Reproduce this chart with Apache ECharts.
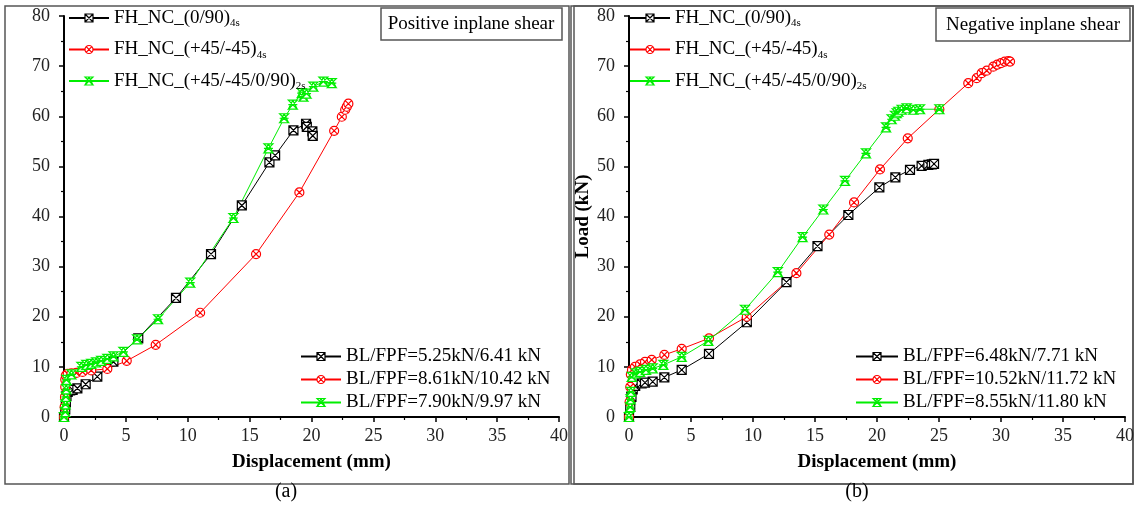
<!DOCTYPE html>
<html><head><meta charset="utf-8">
<script src="https://cdn.jsdelivr.net/npm/echarts@6/dist/echarts.min.js"></script>
<style>html,body{margin:0;padding:0;background:#fff}#c{width:1137px;height:507px}</style>
</head><body><div id="c"></div>
<script>
// ---------- DATA ----------
const xTicks = [0,5,10,15,20,25,30,35,40];
const yTicks = [0,10,20,30,40,50,60,70,80];
const seriesNames = ['FH_NC_(0/90)4s','FH_NC_(+45/-45)4s','FH_NC_(+45/-45/0/90)2s'];
const blLeft = ['BL/FPF=5.25kN/6.41 kN','BL/FPF=8.61kN/10.42 kN','BL/FPF=7.90kN/9.97 kN'];
const blRight = ['BL/FPF=6.48kN/7.71 kN','BL/FPF=10.52kN/11.72 kN','BL/FPF=8.55kN/11.80 kN'];
const panelTitles = ['Positive inplane shear','Negative inplane shear'];

// Positive inplane shear (a)
const posBlack = [[0,0],[0.1,1.5],[0.15,3],[0.2,4.2],[0.3,5.0],[0.5,5.3],[0.7,5.4],[1.08,5.73],[1.75,6.53],[2.69,8.04],[3.99,11.03],[6.0,15.7],[9.05,23.75],[11.88,32.5],[14.37,42.2],[16.6,50.8],[17.06,52.2],[18.54,57.2],[19.56,58.5],[19.62,57.9],[20.07,57.0],[20.1,56.1]];
const posRed = [[0,0],[0.05,2],[0.08,4],[0.1,6],[0.1,7.5],[0.15,8.3],[0.3,8.6],[0.6,8.7],[1.0,8.8],[1.5,9.0],[2.2,9.3],[3.5,9.6],[5.07,11.2],[7.41,14.4],[11.0,20.8],[15.52,32.5],[19.02,44.8],[21.83,57.1],[22.45,59.9],[22.72,61.3],[22.85,61.9],[22.98,62.5]];
const posGreen = [[0,0],[0.1,1],[0.12,2.5],[0.15,4],[0.18,5.5],[0.2,7.4],[0.6,8.5],[1.4,10.0],[1.8,10.4],[2.2,10.6],[2.6,10.9],[3.0,11.2],[3.5,11.6],[4.0,12.1],[4.8,13.0],[5.9,15.5],[7.6,19.5],[10.2,26.8],[13.69,39.7],[16.52,53.6],[17.79,59.6],[18.49,62.3],[19.21,64.6],[19.35,63.9],[19.6,64.5],[20.15,65.9],[20.96,66.9],[21.64,66.6]];

// Negative inplane shear (b)
const negBlack = [[0,0],[0.1,2],[0.2,4],[0.3,5.5],[0.5,6.2],[1.02,6.7],[1.29,6.85],[1.91,7.05],[2.85,7.9],[4.25,9.4],[6.45,12.6],[9.5,18.9],[12.7,26.9],[15.2,34.1],[17.69,40.3],[20.19,45.8],[21.48,47.8],[22.66,49.3],[23.6,50.1],[24.14,50.3],[24.41,50.4],[24.6,50.5]];
const negRed = [[0,0],[0.05,3],[0.1,6],[0.15,8.5],[0.24,9.4],[0.48,10.0],[0.89,10.5],[1.29,11.0],[1.83,11.4],[2.85,12.4],[4.25,13.6],[6.45,15.7],[9.5,20.0],[13.5,28.7],[16.15,36.4],[18.15,42.8],[20.24,49.4],[22.48,55.6],[25.03,61.4],[27.36,66.6],[28.04,67.6],[28.44,68.6],[28.85,69.1],[29.38,69.9],[29.7,70.3],[30.0,70.6],[30.3,70.9],[30.6,71.0],[30.73,70.9]];
const negGreen = [[0,0],[0.1,2],[0.12,3.5],[0.15,5],[0.22,8.0],[0.56,8.7],[0.89,9.0],[1.37,9.4],[1.91,9.7],[2.77,10.4],[4.25,12.0],[6.4,15.2],[9.35,21.4],[12.0,28.9],[14.0,35.9],[15.67,41.4],[17.42,47.1],[19.11,52.6],[20.73,57.8],[21.18,59.4],[21.45,60.1],[21.59,60.6],[21.72,60.9],[21.99,61.3],[22.39,61.6],[22.93,61.3],[23.47,61.4],[25.03,61.4]];

// ---------- STYLE ----------
const FONT = '"Liberation Serif", "Times New Roman", serif';
const colors = ['#000000','#ff0000','#00ee00'];
const symbols = [
  'path://M0,0 L10,0 L10,10 L0,10 Z M0,0 L10,10 M10,0 L0,10',
  'path://M10,5 A5,5 0 1,1 0,5 A5,5 0 1,1 10,5 Z M1.5,1.5 L8.5,8.5 M8.5,1.5 L1.5,8.5',
  'path://M0,0 L10,0 L0,10 L10,10 Z M5,0 L0,10 M5,0 L10,10 M0,5 L10,5'
];
const grids = [
  {left:64, top:16, width:495, height:401},
  {left:629, top:16, width:496, height:401}
];

function mkSeries(name, data, i, gi){
  return {
    type:'line', name:name, data:data, xAxisIndex:gi, yAxisIndex:gi,
    symbol:symbols[i], symbolSize:9, showAllSymbol:true, clip:false,
    lineStyle:{color:colors[i], width:1},
    itemStyle:{color:'#ffffff', borderColor:colors[i], borderWidth:1.2},
    animation:false
  };
}

function xAxis(gi){
  return {type:'value', gridIndex:gi, min:0, max:40, interval:5,
    name:'Displacement (mm)', nameLocation:'middle', nameGap:36,
    nameTextStyle:{fontFamily:FONT, fontSize:19, fontWeight:'bold', color:'#000'},
    axisLine:{show:true, onZero:false, lineStyle:{color:'#000', width:2}},
    axisTick:{show:true, length:5, lineStyle:{color:'#000', width:1.5}},
    minorTick:{show:true, splitNumber:2, length:3, lineStyle:{color:'#000', width:1.2}},
    splitLine:{show:false},
    axisLabel:{fontFamily:FONT, fontSize:18, color:'#222', margin:10,
      formatter:v=> xTicks.includes(v)? String(v):''}
  };
}
function yAxis(gi){
  return {type:'value', gridIndex:gi, min:0, max:80, interval:10,
    name: gi===1 ? 'Load (kN)' : '', nameLocation:'middle', nameGap:36,
    nameTextStyle:{fontFamily:FONT, fontSize:19, fontWeight:'bold', color:'#000'},
    axisLine:{show:true, onZero:false, lineStyle:{color:'#000', width:2}},
    axisTick:{show:true, length:5, lineStyle:{color:'#000', width:1.5}},
    minorTick:{show:true, splitNumber:2, length:3, lineStyle:{color:'#000', width:1.2}},
    splitLine:{show:false},
    axisLabel:{fontFamily:FONT, fontSize:18, color:'#222', margin:14,
      formatter:v=> yTicks.includes(v)? String(v):''}
  };
}

const subFmt = function(name){
  const m = name.match(/^(.*\))(\w+)$/);
  return m ? '{main|' + m[1] + '}{sub|' + m[2] + '}' : name;
};
function topLegend(left){
  return {orient:'vertical', left:left, top:7, padding:0, itemWidth:40, itemHeight:10, itemGap:9.5,
    data:seriesNames, formatter:subFmt, selectedMode:false,
    lineStyle:{width:2},
    itemStyle:{color:'#ffffff', borderWidth:1.2},
    textStyle:{fontFamily:FONT, fontSize:19, color:'#000',
      rich:{main:{fontFamily:FONT, fontSize:19, color:'#000', lineHeight:17},
            sub:{fontFamily:FONT, fontSize:11, color:'#000', padding:[11,0,0,0], lineHeight:13}}}
  };
}
function botLegend(left, width, names){
  return {orient:'vertical', left:left, top:347, padding:0, itemWidth:width, itemHeight:10, itemGap:4,
    data:names, selectedMode:false, lineStyle:{width:2},
    itemStyle:{color:'#ffffff', borderWidth:1.2},
    textStyle:{fontFamily:FONT, fontSize:19, color:'#000'}
  };
}

const series = [
  mkSeries(seriesNames[0], posBlack, 0, 0),
  mkSeries(seriesNames[1], posRed, 1, 0),
  mkSeries(seriesNames[2], posGreen, 2, 0),
  mkSeries(blLeft[0], [], 0, 0),
  mkSeries(blLeft[1], [], 1, 0),
  mkSeries(blLeft[2], [], 2, 0),
  mkSeries(seriesNames[0], negBlack, 0, 1),
  mkSeries(seriesNames[1], negRed, 1, 1),
  mkSeries(seriesNames[2], negGreen, 2, 1),
  mkSeries(blRight[0], [], 0, 1),
  mkSeries(blRight[1], [], 1, 1),
  mkSeries(blRight[2], [], 2, 1)
];

const frameStyle = {fill:'none', stroke:'#555', lineWidth:1.5};
const graphic = [
  {type:'rect', shape:{x:5, y:6, width:564, height:478}, style:frameStyle, silent:true},
  {type:'rect', shape:{x:571, y:6, width:562, height:478}, style:frameStyle, silent:true},
  {type:'rect', shape:{x:574, y:6, width:559, height:478}, style:frameStyle, silent:true},
  {type:'rect', shape:{x:381, y:8, width:181, height:32}, style:{fill:'#fff', stroke:'#555', lineWidth:1.5}, silent:true},
  {type:'text', x:471, y:24, style:{text:panelTitles[0], font:'19px '+FONT, fill:'#000', textAlign:'center', textVerticalAlign:'middle'}},
  {type:'rect', shape:{x:936, y:8, width:194, height:33}, style:{fill:'#fff', stroke:'#555', lineWidth:1.5}, silent:true},
  {type:'text', x:1033, y:25, style:{text:panelTitles[1], font:'19px '+FONT, fill:'#000', textAlign:'center', textVerticalAlign:'middle'}},
  {type:'text', x:286, y:492, style:{text:'(a)', font:'20px '+FONT, fill:'#000', textAlign:'center', textVerticalAlign:'middle'}},
  {type:'text', x:857, y:492, style:{text:'(b)', font:'20px '+FONT, fill:'#000', textAlign:'center', textVerticalAlign:'middle'}}
];

const chart = echarts.init(document.getElementById('c'), null, {renderer:'canvas'});
chart.setOption({
  animation:false,
  backgroundColor:'#fff',
  grid:grids,
  xAxis:[xAxis(0), xAxis(1)],
  yAxis:[yAxis(0), yAxis(1)],
  legend:[topLegend(68), botLegend(300, 40, blLeft), topLegend(629), botLegend(855, 42, blRight)],
  series:series,
  graphic:graphic
});
</script></body></html>
